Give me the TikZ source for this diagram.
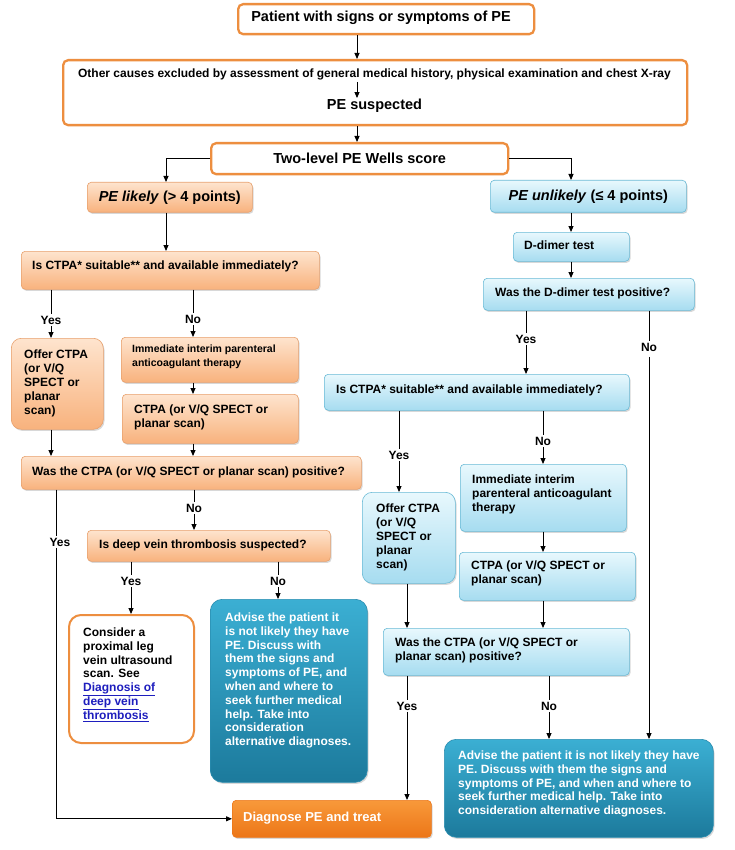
\documentclass[tikz,border=0pt]{standalone}
\usepackage{fontspec}
\setmainfont{Liberation Sans}
\usetikzlibrary{arrows.meta,shadows}
\definecolor{orB}{RGB}{237,142,63}
\definecolor{oTop}{RGB}{254,228,206}
\definecolor{oBot}{RGB}{248,178,125}
\definecolor{oBor}{RGB}{232,160,108}
\definecolor{bTop}{RGB}{232,248,253}
\definecolor{bBot}{RGB}{166,220,240}
\definecolor{bBor}{RGB}{105,186,214}
\definecolor{tTop}{RGB}{59,175,211}
\definecolor{tBot}{RGB}{28,122,156}
\definecolor{tBor}{RGB}{42,141,176}
\definecolor{dTop}{RGB}{248,153,58}
\definecolor{dBot}{RGB}{236,118,24}
\definecolor{linkc}{RGB}{30,30,190}
\newcommand\myfs[2]{\fontsize{#1}{#2}\selectfont\bfseries}
\newcommand\bx[6]{\node[#1,anchor=north west,minimum width={(#5)-(#3)},minimum height={(#6)-(#4)}] (#2) at (#3,#4) {};}
\newcommand\tx[5]{\node[txt,#1,anchor=north west] (#2) at (#3,{#4-4.4}) {#5};}
\newcommand\lnk[1]{\textcolor{linkc}{\underline{#1}}}
\begin{document}
\begin{tikzpicture}[x=1pt,y=-1pt,
  shad/.style={drop shadow={shadow xshift=1.2pt,shadow yshift=-1.6pt,opacity=0.3}},
  topbox/.style={draw=orB,line width=2.3pt,rounded corners=5pt,fill=white},
  obox/.style={top color=oTop,bottom color=oBot,draw=oBor,line width=0.6pt,rounded corners=4pt,shad},
  bbox/.style={top color=bTop,bottom color=bBot,draw=bBor,line width=0.6pt,rounded corners=4pt,shad},
  tbox/.style={top color=tTop,bottom color=tBot,draw=tBor,line width=0.6pt,rounded corners=12pt,shad},
  dbox/.style={top color=dTop,bottom color=dBot,draw=dBot,line width=0.6pt,rounded corners=4pt,shad},
  cbox/.style={draw=orB,line width=2pt,rounded corners=12pt,fill=white},
  txt/.style={inner sep=0pt,align=left,font=\myfs{12}{14},text=black},
  ctr/.style={inner sep=0pt,align=center,text=black},
  lbl/.style={inner sep=1.5pt,font=\myfs{12}{14},text=black},
  ln/.style={draw=black,line width=0.9pt},
  arr/.style={ln,-{Triangle[length=6pt,width=5pt]}}]
\fill[white] (0,0) rectangle (735,850);
\useasboundingbox (0,0) rectangle (735,850);
\coordinate (cm) at (357,0);
\coordinate (cl) at (166,0);
\coordinate (cr) at (571,0);
\coordinate (xa) at (56,818);
% top
\bx{topbox}{b1}{237}{3}{533}{33}
\node[ctr,font=\myfs{14.5}{17}] (b1t) at (381,18) {Patient with signs or symptoms of PE};
\bx{topbox}{b2}{62}{59}{686}{124}
\node[ctr,font=\myfs{12}{14}] (b2a) at (374.5,74) {Other causes excluded by assessment of general medical history, physical examination and chest X-ray};
\node[ctr,font=\myfs{14.5}{17}] (b2b) at (374.5,106) {PE suspected};
\node[topbox,anchor=north west,minimum width=297,minimum height=31,font=\myfs{14.5}{17}] (b3) at (210,142) {Two-level PE Wells score};
\node[obox,anchor=north west,minimum width=165,minimum height=30,font=\myfs{14.5}{17}] (L0) at (87,182) {\textit{PE likely} (> 4 points)};
\node[bbox,anchor=north west,minimum width=196,minimum height=32,font=\myfs{14.5}{17}] (R0) at (490,180) {\textit{PE unlikely} (≤ 4 points)};
% left boxes
\bx{obox}{L1}{21}{251}{319}{289}
\tx{}{L1t}{32}{265}{Is CTPA* suitable** and available immediately?}
\bx{obox,rounded corners=10pt}{L2}{11}{338}{103}{429}
\tx{}{L2t}{24}{354}{Offer CTPA\\(or V/Q\\SPECT or\\planar\\scan)}
\bx{obox}{L3}{121}{337}{298}{382}
\tx{font=\myfs{10.5}{14}}{L3t}{132}{349}{Immediate interim parenteral\\anticoagulant therapy}
\bx{obox}{L4}{122}{394}{298}{443}
\tx{}{L4t}{134}{409}{CTPA (or V/Q SPECT or\\planar scan)}
\bx{obox}{L5}{21}{456}{361}{489}
\tx{}{L5t}{32}{471}{Was the CTPA (or V/Q SPECT or planar scan) positive?}
\bx{obox}{L6}{87}{530}{330}{561}
\tx{}{L6t}{99}{544}{Is deep vein thrombosis suspected?}
\bx{cbox}{L7}{68}{614}{193}{742}
\tx{font=\myfs{12}{13.8}}{L7t}{83}{632}{Consider a\\proximal leg\\vein ultrasound\\scan. See\\\lnk{Diagnosis of}\\\lnk{deep vein}\\\lnk{thrombosis}}
\bx{tbox}{L8}{210}{599}{367}{782}
\tx{font=\myfs{12}{13.8},text=white}{L8t}{225}{617}{Advise the patient it\\is not likely they have\\PE. Discuss with\\them the signs and\\symptoms of PE, and\\when and where to\\seek further medical\\help. Take into\\consideration\\alternative diagnoses.}
\bx{dbox}{D}{232}{800}{431}{837}
\tx{font=\myfs{13}{15},text=white}{Dt}{243}{816}{Diagnose PE and treat}
% right boxes
\bx{bbox}{R1}{513}{232}{629}{261}
\tx{}{R1t}{524}{245}{D-dimer test}
\bx{bbox}{R2}{483}{278}{694}{310}
\tx{}{R2t}{495}{292}{Was the D-dimer test positive?}
\bx{bbox}{R3}{324}{374}{629}{410}
\tx{}{R3t}{336}{389}{Is CTPA* suitable** and available immediately?}
\bx{bbox,rounded corners=10pt}{R4}{362}{492}{455}{583}
\tx{}{R4t}{376}{508}{Offer CTPA\\(or V/Q\\SPECT or\\planar\\scan)}
\bx{bbox}{R5}{460}{464}{626}{531}
\tx{}{R5t}{472}{479}{Immediate interim\\parenteral anticoagulant\\therapy}
\bx{bbox}{R6}{459}{552}{635}{600}
\tx{}{R6t}{471}{565}{CTPA (or V/Q SPECT or\\planar scan)}
\bx{bbox}{R7}{383}{628}{629}{675}
\tx{}{R7t}{395}{642}{Was the CTPA (or V/Q SPECT or\\planar scan) positive?}
\bx{tbox}{R9}{444}{739}{713}{837}
\tx{font=\myfs{12}{13.8},text=white}{R9t}{458}{755}{Advise the patient it is not likely they have\\PE. Discuss with them the signs and\\symptoms of PE, and when and where to\\seek further medical help. Take into\\consideration alternative diagnoses.}
% labels
\node[lbl] (yL1) at (51,320) {Yes};
\node[lbl] (nL1) at (193,319) {No};
\node[lbl] (yL5) at (60,542) {Yes};
\node[lbl] (nL5) at (194,508) {No};
\node[lbl] (yL6) at (131,581) {Yes};
\node[lbl] (nL6) at (278,581) {No};
\node[lbl] (yR2) at (526,339) {Yes};
\node[lbl] (nR2) at (649,347) {No};
\node[lbl] (yR3) at (399,455) {Yes};
\node[lbl] (nR3) at (543,441) {No};
\node[lbl] (yR7) at (407,706) {Yes};
\node[lbl] (nR7) at (549,706) {No};
% connectors top
\draw[arr] (b1.south -| cm) -- (b2.north -| cm);
\draw[arr,shorten <=2pt,shorten >=1pt] (b2a.south -| cm) -- (b2b.north -| cm);
\draw[arr] (b2.south -| cm) -- (b3.north -| cm);
\draw[arr] (b3.west) -| (L0.north -| cl);
\draw[arr] (b3.east) -| (R0.north -| cr);
\draw[arr] (L0.south -| cl) -- (L1.north -| cl);
\draw[arr] (R0.south -| cr) -- (R1.north -| cr);
\draw[arr] (R1.south -| cr) -- (R2.north -| cr);
% left connectors
\draw[ln] (L1.south -| yL1) -- (yL1.north);
\draw[arr] (yL1.south) -- (L2.north -| yL1);
\draw[ln] (L1.south -| nL1) -- (nL1.north);
\draw[arr] (nL1.south) -- (L3.north -| nL1);
\draw[arr] (L3.south -| nL1) -- (L4.north -| nL1);
\draw[arr] (L2.south -| yL1) -- (L5.north -| yL1);
\draw[arr] (L4.south -| nL1) -- (L5.north -| nL1);
\draw[ln] (L5.south -| xa) -- (yL5.north -| xa);
\draw[arr] (yL5.south -| xa) |- (D.west);
\draw[ln] (L5.south -| nL5) -- (nL5.north);
\draw[arr] (nL5.south) -- (L6.north -| nL5);
\draw[ln] (L6.south -| yL6) -- (yL6.north);
\draw[arr] (yL6.south) -- (L7.north -| yL6);
\draw[ln] (L6.south -| nL6) -- (nL6.north);
\draw[arr] (nL6.south) -- (L8.north -| nL6);
% right connectors
\draw[ln] (R2.south -| yR2) -- (yR2.north);
\draw[arr] (yR2.south) -- (R3.north -| yR2);
\draw[ln] (R2.south -| nR2) -- (nR2.north);
\draw[arr,shorten <=4pt] (nR2.south) -- (R9.north -| nR2);
\draw[ln] (R3.south -| yR3) -- (yR3.north);
\draw[arr] (yR3.south) -- (R4.north -| yR3);
\draw[ln] (R3.south -| nR3) -- (nR3.north);
\draw[arr] (nR3.south) -- (R5.north -| nR3);
\draw[arr] (R5.south -| nR3) -- (R6.north -| nR3);
\draw[arr] (R6.south -| nR3) -- (R7.north -| nR3);
\draw[arr] (R4.south -| yR7) -- (R7.north -| yR7);
\draw[ln] (R7.south -| yR7) -- (yR7.north);
\draw[arr] (yR7.south) -- (D.north -| yR7);
\draw[ln] (R7.south -| nR7) -- (nR7.north);
\draw[arr] (nR7.south) -- (R9.north -| nR7);
\end{tikzpicture}
\end{document}
